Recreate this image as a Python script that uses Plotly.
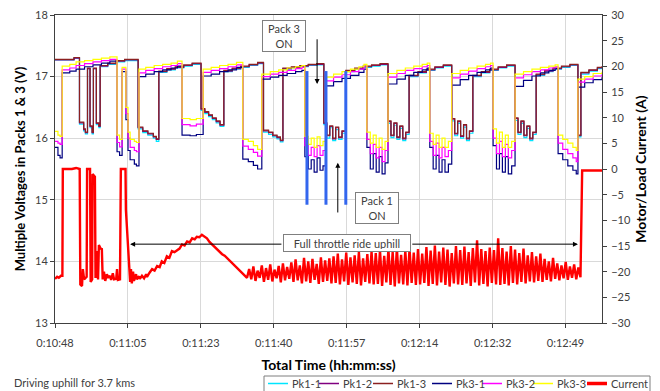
import plotly.graph_objects as go

# ---------------- data ----------------
x_tick_seconds = [648, 665.28, 682.56, 699.84, 717.12, 734.4, 751.68, 768.96]
x_tick_labels = ["0:10:48", "0:11:05", "0:11:23", "0:11:40", "0:11:57",
                 "0:12:14", "0:12:32", "0:12:49"]

# Pack 3 cells (time in s since 0:00:00)
t_pack3 = [648.0, 648.7, 649.2, 649.7, 651.5, 653.0, 655.0, 657.0, 659.0, 661.0,
           662.7, 663.3, 663.9, 664.8, 665.3, 665.8, 666.8, 667.3,
           667.9, 669.5, 671.5, 673.5, 675.5, 677.0,
           678.1, 680.0, 681.5,
           683.1, 685.0, 687.0, 689.0, 691.0,
           692.5, 693.8, 695.0, 696.0,
           697.0, 699.0, 701.0, 703.0, 705.0, 706.5,
           707.2, 708.0, 708.7, 709.4, 710.1, 710.8, 711.5,
           712.2, 714.0, 716.0, 718.0, 720.0, 721.2,
           721.9, 722.7, 723.4, 724.1, 724.8, 725.5, 726.2,
           726.9, 729.0, 731.0, 733.0, 735.0, 736.2,
           736.8, 737.6, 738.3, 739.0, 739.7, 740.4, 741.2,
           742.0, 744.0, 746.0, 748.0, 750.0, 751.2,
           751.8, 752.6, 753.3, 754.0, 754.7, 755.4, 756.2,
           757.0, 759.0, 761.0, 763.0, 765.0, 766.5,
           767.2, 768.3, 769.5, 770.7, 771.5,
           771.9, 773.5, 775.5, 777.6]
pk3_3 = [16.11, 16.05, 16.03, 17.17, 17.20, 17.24, 17.26, 17.28, 17.30, 17.32,
         16.05, 15.98, 17.15, 16.50, 16.10, 15.98, 15.95, 15.93,
         17.12, 17.15, 17.18, 17.20, 17.22, 17.25,
         16.32, 16.30, 16.32,
         17.12, 17.15, 17.18, 17.20, 17.23,
         15.98, 15.95, 15.88, 15.82,
         17.04, 17.08, 17.11, 17.14, 17.16, 17.18,
         16.03, 15.90, 16.00, 15.85, 16.02, 15.88, 15.95,
         16.99, 17.04, 17.08, 17.12, 17.16, 17.20,
         16.10, 15.92, 16.05, 15.85, 16.00, 15.82, 15.95,
         17.05, 17.10, 17.14, 17.17, 17.20, 17.22,
         16.08, 15.90, 16.05, 15.85, 16.00, 15.85, 15.95,
         17.05, 17.10, 17.14, 17.17, 17.20, 17.22,
         16.15, 15.92, 16.10, 15.85, 16.05, 15.85, 15.95,
         17.04, 17.08, 17.12, 17.15, 17.17, 17.19,
         16.05, 15.98, 15.92, 15.85, 15.80,
         16.96, 17.00, 17.05, 17.08]
pk3_2 = [15.95, 15.92, 15.90, 17.11, 17.14, 17.18, 17.21, 17.24, 17.26, 17.28,
         15.93, 15.86, 17.12, 16.40, 16.00, 15.85, 15.80, 15.78,
         17.06, 17.10, 17.13, 17.16, 17.18, 17.21,
         16.22, 16.20, 16.23,
         17.07, 17.10, 17.13, 17.16, 17.19,
         15.87, 15.82, 15.77, 15.71,
         17.00, 17.04, 17.07, 17.10, 17.13, 17.15,
         15.88, 15.72, 15.85, 15.70, 15.88, 15.72, 15.80,
         16.93, 16.99, 17.03, 17.08, 17.12, 17.16,
         15.98, 15.75, 15.90, 15.68, 15.85, 15.62, 15.80,
         16.99, 17.05, 17.10, 17.13, 17.16, 17.18,
         15.95, 15.72, 15.92, 15.68, 15.85, 15.70, 15.80,
         16.98, 17.04, 17.09, 17.13, 17.16, 17.18,
         16.00, 15.75, 15.95, 15.70, 15.90, 15.68, 15.80,
         16.98, 17.03, 17.08, 17.11, 17.14, 17.16,
         15.92, 15.82, 15.75, 15.68, 15.62,
         16.91, 16.96, 17.01, 17.04]
pk3_1 = [15.85, 15.72, 15.68, 17.06, 17.09, 17.12, 17.16, 17.19, 17.22, 17.25,
         15.78, 15.72, 17.08, 16.30, 15.80, 15.65, 15.58, 15.55,
         17.00, 17.04, 17.08, 17.11, 17.14, 17.17,
         16.05, 16.04, 16.06,
         17.01, 17.04, 17.08, 17.11, 17.15,
         15.66, 15.62, 15.56, 15.50,
         16.96, 16.99, 17.02, 17.05, 17.08, 17.10,
         15.70, 15.50, 15.65, 15.45, 15.68, 15.48, 15.55,
         16.85, 16.92, 16.97, 17.02, 17.07, 17.12,
         15.85, 15.50, 15.75, 15.45, 15.70, 15.42, 15.60,
         16.88, 16.96, 17.02, 17.07, 17.11, 17.14,
         15.85, 15.50, 15.72, 15.45, 15.65, 15.45, 15.58,
         16.86, 16.95, 17.02, 17.07, 17.11, 17.14,
         15.88, 15.50, 15.75, 15.45, 15.70, 15.42, 15.55,
         16.84, 16.94, 17.01, 17.06, 17.10, 17.13,
         15.75, 15.65, 15.55, 15.48, 15.42,
         16.83, 16.90, 16.95, 16.99]

# Pack 1 cells
t_pack1 = [648.0, 652.5, 653.8, 654.8, 655.2, 655.7, 656.3, 656.8, 657.1, 657.8,
           658.4, 658.7, 660.5, 662.5, 664.5,
           667.7, 668.8, 670.0, 671.3, 672.0,
           672.6, 674.5, 676.5, 678.5, 680.5,
           682.6, 683.5, 684.4, 685.3, 686.2, 687.1,
           688.0, 690.0, 692.0, 694.0, 696.0,
           697.4, 698.6, 699.6, 700.6, 701.4,
           702.0, 704.0, 706.0, 708.0, 710.0,
           711.7, 712.4, 713.1, 713.8, 714.5, 715.2, 716.0,
           716.9, 719.0, 721.0, 723.0, 725.0,
           726.9, 727.6, 728.3, 729.0, 729.7, 730.4, 731.1,
           731.9, 734.0, 736.0, 738.0, 740.0,
           742.0, 742.7, 743.4, 744.1, 744.8, 745.5, 746.2,
           747.0, 749.0, 751.0, 753.0, 755.0,
           757.0, 757.7, 758.4, 759.1, 759.8, 760.5, 761.2,
           762.0, 764.0, 766.0, 768.0, 770.0,
           771.9, 772.6, 774.5, 776.5, 777.6]
pk1_3 = [17.28, 17.31, 16.26, 16.15, 16.10, 17.14, 16.20, 16.10, 17.14, 16.25,
         16.20, 17.18, 17.22, 17.26, 17.28,
         16.18, 16.12, 16.08, 16.03, 15.99,
         17.09, 17.13, 17.16, 17.19, 17.22,
         16.48, 16.43, 16.38, 16.33, 16.28, 16.22,
         17.10, 17.14, 17.17, 17.20, 17.23,
         16.13, 16.10, 16.05, 16.02, 15.97,
         17.14, 17.16, 17.18, 17.20, 17.21,
         16.25, 16.05, 16.20, 16.00, 16.18, 16.02, 16.12,
         17.10, 17.14, 17.17, 17.19, 17.21,
         16.28, 16.05, 16.25, 16.02, 16.20, 16.00, 16.10,
         17.02, 17.08, 17.12, 17.16, 17.19,
         16.32, 16.08, 16.28, 16.04, 16.22, 16.00, 16.12,
         17.02, 17.08, 17.12, 17.16, 17.19,
         16.33, 16.10, 16.28, 16.05, 16.20, 16.00, 16.10,
         17.04, 17.10, 17.14, 17.17, 17.20,
         16.05, 17.07, 17.11, 17.15, 17.17]
pk1_2 = [17.27, 17.30, 16.25, 16.14, 16.09, 17.13, 16.19, 16.09, 17.13, 16.24,
         16.19, 17.17, 17.21, 17.25, 17.27,
         16.17, 16.11, 16.07, 16.02, 15.98,
         17.08, 17.12, 17.15, 17.18, 17.21,
         16.47, 16.42, 16.37, 16.32, 16.27, 16.21,
         17.09, 17.13, 17.16, 17.19, 17.22,
         16.12, 16.09, 16.04, 16.01, 15.96,
         17.13, 17.15, 17.17, 17.19, 17.20,
         16.24, 16.04, 16.19, 15.99, 16.17, 16.01, 16.11,
         17.09, 17.13, 17.16, 17.18, 17.20,
         16.27, 16.04, 16.24, 16.01, 16.19, 15.99, 16.09,
         17.01, 17.07, 17.11, 17.15, 17.18,
         16.31, 16.07, 16.27, 16.03, 16.21, 15.99, 16.11,
         17.01, 17.07, 17.11, 17.15, 17.18,
         16.32, 16.09, 16.27, 16.04, 16.19, 15.99, 16.09,
         17.03, 17.09, 17.13, 17.16, 17.19,
         16.04, 17.06, 17.10, 17.14, 17.16]
pk1_1 = [17.27, 17.30, 16.23, 16.12, 16.07, 17.13, 16.17, 16.07, 17.13, 16.22,
         16.17, 17.16, 17.20, 17.24, 17.26,
         16.15, 16.09, 16.05, 16.00, 15.95,
         17.07, 17.11, 17.14, 17.17, 17.20,
         16.45, 16.40, 16.35, 16.30, 16.25, 16.19,
         17.08, 17.12, 17.15, 17.18, 17.21,
         16.10, 16.06, 16.02, 15.99, 15.94,
         17.12, 17.14, 17.16, 17.18, 17.19,
         16.22, 16.00, 16.17, 15.96, 16.14, 15.98, 16.08,
         17.08, 17.12, 17.15, 17.17, 17.19,
         16.24, 16.01, 16.21, 15.98, 16.16, 15.96, 16.06,
         17.00, 17.06, 17.10, 17.14, 17.17,
         16.28, 16.04, 16.24, 16.00, 16.18, 15.96, 16.08,
         17.00, 17.06, 17.10, 17.14, 17.17,
         16.29, 16.06, 16.24, 16.01, 16.16, 15.96, 16.06,
         17.02, 17.08, 17.12, 17.15, 17.18,
         16.02, 17.04, 17.09, 17.13, 17.15]

# Motor / load current (A)
t_current_start = [648.0, 648.5, 648.9, 649.4, 649.75, 649.85, 652.0, 653.0, 653.85,
                   654.0, 654.4, 654.6, 654.9, 655.5, 655.6, 656.3, 656.45, 656.8, 656.9, 657.45, 657.6,
                   657.8, 657.9, 658.2, 658.4, 658.8, 659.1, 659.3, 659.6, 659.9, 660.3, 660.6, 661.0,
                   661.3, 661.7, 662.0, 662.5, 662.7, 662.9, 663.4, 663.6, 664.7, 664.8, 665.3, 665.8,
                   666.0, 666.2, 666.5, 666.7, 667.2, 667.4, 667.9, 668.1, 668.6, 669.1, 669.6, 669.8,
                   670.4, 671.0, 671.6, 672.2, 672.8, 673.3, 673.9, 674.5, 675.1, 675.7, 676.3,
                   676.9, 677.5, 678.1, 678.7, 679.3, 679.9, 680.5, 681.1, 681.6, 682.2, 682.8,
                   683.4, 684.0, 684.6, 685.2, 685.8, 686.4, 687.0, 687.6, 688.2, 688.7, 689.3,
                   689.9, 690.5, 691.1, 691.7, 692.3, 692.9, 693.5]
current_start = [-21.4, -21.0, -21.2, -20.8, -20.8, 0.0, 0.0, 0.2, 0.0,
                 -22.5, -22.8, -19.5, -21.5, -21.0, 0.0, 0.0, -22.0, -21.5, -1.0, -1.5, -21.0,
                 -21.0, -16.0, -21.5, -14.8, -15.5, -15.6, -21.5, -20.0, -21.8, -20.5, -21.2, -20.8,
                 -21.6, -20.3, -21.5, -21.4, -19.5, -21.6, -21.5, 0.0, 0.0, -8.0, -15.0, -22.0,
                 -19.5, -22.3, -20.0, -21.8, -20.5, -21.5, -20.9, -21.4, -20.8, -21.3, -20.5, -21.0,
                 -20.2, -19.5, -19.8, -18.9, -19.1, -18.0, -18.3, -17.0, -17.3, -16.0, -16.2,
                 -15.8, -15.5, -14.7, -14.9, -14.1, -14.3, -13.5, -13.7, -13.2, -13.3, -12.8,
                 -13.2, -13.5, -14.2, -14.7, -15.0, -15.6, -16.0, -16.6, -16.9, -17.3, -17.9,
                 -18.3, -18.8, -19.3, -19.8, -20.2, -20.6, -21.2]
# full-throttle section logged every 0.5 s from 694.0 s
zigzag_t0 = 694.0
zigzag_dt = 0.5
current_zigzag = [
    -19.5, -21.5, -19.0, -21.8, -19.8, -21.2, -18.8, -22.0, -19.3, -21.6,
    -18.6, -21.9, -19.6, -21.3, -18.9, -22.1, -18.4, -21.7, -19.1, -21.4,
    -18.2, -22.0, -17.6, -21.7, -18.8, -22.3, -17.3, -21.9, -18.0, -22.2,
    -17.5, -21.6, -18.5, -22.4, -17.2, -22.0, -17.8, -21.8, -17.4, -22.3,
    -17.0, -22.2, -16.5, -22.5, -17.6, -21.9, -16.3, -22.6, -17.2, -22.1,
    -16.8, -22.4, -16.2, -22.7, -17.4, -22.0, -16.6, -22.3, -16.1, -22.5,
    -16.4, -22.4, -15.8, -22.8, -16.9, -22.1, -15.6, -22.6, -16.2, -22.9,
    -15.4, -22.3, -16.7, -22.5, -15.9, -22.7, -15.5, -22.2, -16.3, -22.6,
    -15.6, -22.5, -16.5, -22.2, -15.2, -22.8, -15.9, -22.4, -14.9, -22.7,
    -16.1, -22.1, -15.3, -22.6, -15.7, -22.9, -16.4, -22.3, -15.0, -22.5,
    -15.8, -22.6, -15.1, -22.3, -16.2, -22.8, -15.4, -22.1, -13.9, -22.7,
    -15.6, -22.4, -16.0, -22.9, -15.3, -22.2, -15.8, -22.5, -13.5, -22.6,
    -15.4, -22.4, -16.1, -22.7, -15.0, -22.2, -15.7, -22.5, -16.4, -22.0,
    -15.5, -22.3, -16.8, -21.9, -16.2, -22.1, -17.0, -21.8, -16.5, -22.0,
    -17.5, -21.6, -18.0, -21.9, -17.3, -21.4, -18.4, -21.7, -18.8, -21.3,
    -18.1, -21.6, -19.0, -21.2, -18.6, -21.5, -19.2, -21.1]
t_current_end = [772.9, 777.6]
current_end = [-0.3, -0.3]

# Pack switch-over markers (blue bars)
switch_times = [707.7, 712.2, 716.9]
switch_v_range = [14.92, 17.09]

series_names = ["Pk1-1", "Pk1-2", "Pk1-3", "Pk3-1", "Pk3-2", "Pk3-3", "Current"]
series_colors = ["#00E5FF", "#800080", "#8B2020", "#000080", "#FF00FF", "#FFFF00", "#FF0000"]

# ---------------- figure ----------------
# the page body has an 8 px margin, so the figure is drawn 8 px in from the window
OFF = 8
W, H = 660 - OFF, 391 - OFF
ML, MR, MT, MB = 55 - OFF, 58, 7, 68
PW, PH = W - ML - MR, H - MT - MB


def px_x(px):
    """window pixel x -> paper coordinate"""
    return (px - OFF - ML) / PW


def px_y(py):
    """window pixel y -> paper coordinate"""
    return (H - MB - (py - OFF)) / PH


t_zig = [zigzag_t0 + zigzag_dt * i for i in range(len(current_zigzag))]
t_current = t_current_start + t_zig + t_current_end
current = current_start + current_zigzag + current_end

FONT = "Lato, 'Liberation Sans', Arial, sans-serif"
AX = "#404040"
GRID = "#D9D9D9"

fig = go.Figure()
voltage_sets = [(t_pack1, pk1_1), (t_pack1, pk1_2), (t_pack1, pk1_3),
                (t_pack3, pk3_1), (t_pack3, pk3_2), (t_pack3, pk3_3)]
for (tt, vv), nm, col in zip(voltage_sets, series_names[:6], series_colors[:6]):
    fig.add_trace(go.Scatter(x=tt, y=vv, name=nm, mode="lines", showlegend=False,
                             line=dict(color=col, width=1.2, shape="hv")))
fig.add_trace(go.Scatter(x=t_current, y=current, name="Current", yaxis="y2",
                         mode="lines", showlegend=False,
                         line=dict(color=series_colors[6], width=2.4)))

for st in switch_times:
    fig.add_shape(type="line", xref="x", yref="y", x0=st, x1=st,
                  y0=switch_v_range[0], y1=switch_v_range[1],
                  line=dict(color="#3366EE", width=3))

box = dict(bordercolor="#7F7F7F", borderwidth=1, bgcolor="white",
           font=dict(family=FONT, size=11, color=AX), showarrow=False)
fig.add_annotation(x=702.3, y=17.66, xref="x", yref="y", text="Pack 3<br>ON",
                   width=38, height=26, borderpad=2, **box)
fig.add_annotation(x=724.3, y=14.87, xref="x", yref="y", text="Pack 1<br>ON",
                   width=38, height=26, borderpad=2, **box)
fig.add_annotation(x=717.2, y=14.3, xref="x", yref="y", text="Full throttle ride uphill",
                   width=122, height=12, borderpad=2, **box)

arrow = dict(xref="x", yref="y", axref="x", ayref="y", text="", showarrow=True,
             arrowhead=2, arrowsize=1, arrowwidth=1, arrowcolor="#000000")
fig.add_annotation(x=710.1, y=16.88, ax=710.1, ay=17.63, **arrow)
fig.add_annotation(x=715.0, y=15.60, ax=715.0, ay=14.77, **arrow)
fig.add_annotation(x=665.8, y=14.28, ax=702.0, ay=14.28, **arrow)
fig.add_annotation(x=771.9, y=14.28, ax=732.3, ay=14.28, **arrow)

fig.add_annotation(x=px_x(12), y=px_y(382), xref="paper", yref="paper", xanchor="left",
                   yanchor="middle", text="Driving uphill for 3.7 kms", showarrow=False,
                   font=dict(family=FONT, size=11, color=AX))

# legend box below the axis title (sample line + label per series)
legend_line_px = [268, 319, 373, 432, 482, 533, 587]
legend_line_len = 20
legend_row_py = 383.5
fig.add_shape(type="rect", xref="paper", yref="paper",
              x0=px_x(264), x1=px_x(650), y0=px_y(376), y1=px_y(398),
              line=dict(color="#7F7F7F", width=1), fillcolor="white", layer="above")
for i, (nm, col) in enumerate(zip(series_names, series_colors)):
    lx = legend_line_px[i]
    fig.add_shape(type="line", xref="paper", yref="paper",
                  x0=px_x(lx), x1=px_x(lx + legend_line_len),
                  y0=px_y(legend_row_py), y1=px_y(legend_row_py),
                  line=dict(color=col, width=3.5 if nm == "Current" else 1.5))
    fig.add_annotation(x=px_x(lx + legend_line_len + 2), y=px_y(legend_row_py),
                       xref="paper", yref="paper", xanchor="left", yanchor="middle",
                       text=nm, showarrow=False,
                       font=dict(family=FONT, size=11, color=AX))

fig.update_layout(
    width=W, height=H,
    margin=dict(l=ML, r=MR, t=MT, b=MB, autoexpand=False),
    paper_bgcolor="white", plot_bgcolor="white",
    font=dict(family=FONT, size=11, color=AX),
    showlegend=False,
    xaxis=dict(range=[648, 777.6], tickvals=x_tick_seconds, ticktext=x_tick_labels,
               showgrid=True, gridcolor=GRID, gridwidth=1, zeroline=False,
               showline=True, linecolor=AX, linewidth=1, mirror=True,
               ticks="outside", ticklen=4, tickcolor=AX, automargin=False,
               ticklabelstandoff=6,
               tickfont=dict(family=FONT, size=11, color=AX),
               title=dict(text="<b>Total Time (hh:mm:ss)</b>", standoff=11,
                          font=dict(family=FONT, size=14, color="#000000"))),
    yaxis=dict(range=[13, 18], dtick=1, showgrid=True, gridcolor=GRID, zeroline=False,
               showline=True, linecolor=AX, linewidth=1, automargin=False,
               ticks="outside", ticklen=4, tickcolor=AX, ticklabeloverflow="allow",
               tickfont=dict(family=FONT, size=11, color=AX),
               title=dict(text="<b>Multiple Voltages in Packs 1 &amp; 3 (V)</b>", standoff=6,
                          font=dict(family=FONT, size=13, color="#000000"))),
    yaxis2=dict(range=[-30, 30], dtick=5, overlaying="y", side="right",
                showgrid=False, zeroline=False, showline=True, linecolor=AX, linewidth=1,
                ticks="outside", ticklen=4, tickcolor=AX, automargin=False,
                ticklabelstandoff=2, ticklabeloverflow="allow",
                tickfont=dict(family=FONT, size=11, color=AX),
                title=dict(text="<b>Motor/Load Current (A)</b>", standoff=6,
                           font=dict(family=FONT, size=14, color="#000000"))),
)

fig.write_html("out.html")
